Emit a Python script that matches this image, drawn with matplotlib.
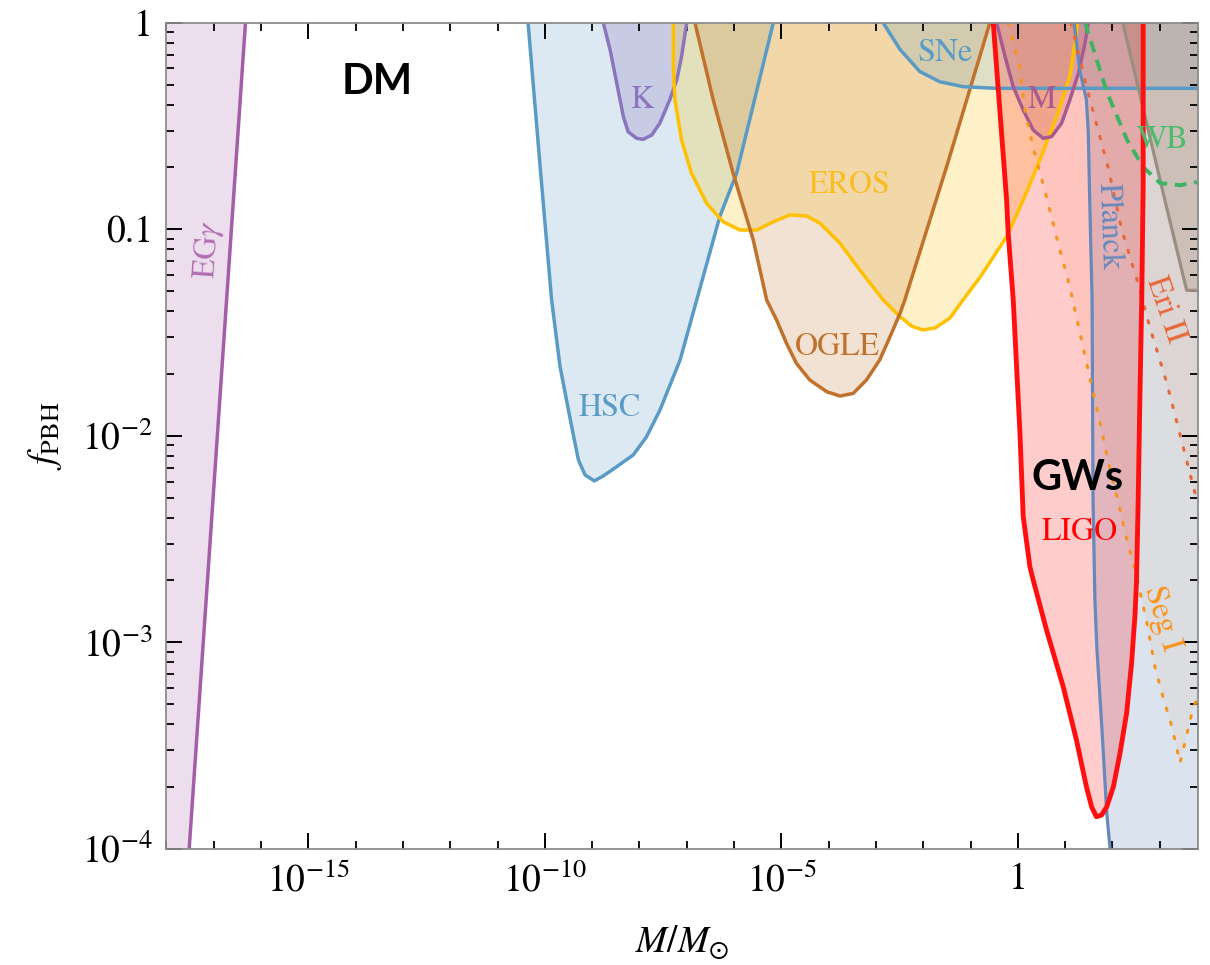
import numpy as np
import matplotlib
matplotlib.use("Agg")
import matplotlib.pyplot as plt
from matplotlib.ticker import FixedLocator, FixedFormatter, NullFormatter

plt.rcParams['font.family'] = 'STIXGeneral'
plt.rcParams['mathtext.fontset'] = 'stix'

# ---- constraint boundaries: log10(M / M_sun) and log10(f_PBH) ----
egg_logM = [-17.52, -16.33]
egg_logf = [-4.0, 0.0]

hsc_logM = [-10.355, -10.10, -9.857, -9.68, -9.433, -9.29, -9.15, -8.955, -8.765, -8.48, -8.13,
            -7.85, -7.567, -7.14, -6.79, -6.30, -5.945, -5.17]
hsc_logf = [0.0, -0.697, -1.343, -1.664, -1.956, -2.118, -2.19, -2.219, -2.195, -2.15, -2.093,
            -2.005, -1.876, -1.633, -1.343, -0.938, -0.729, 0.0]

k_logM = [-8.765, -8.62, -8.48, -8.34, -8.24, -8.06, -7.92, -7.74, -7.57, -7.36, -7.21, -7.11, -7.0]
k_logf = [0.0, -0.132, -0.293, -0.455, -0.528, -0.56, -0.565, -0.544, -0.487, -0.374, -0.277, -0.164, 0.0]

eros_logM = [-7.285, -7.285, -7.25, -7.11, -6.90, -6.58, -6.23, -5.875, -5.52, -5.17, -4.82, -4.465,
             -4.18, -3.76, -3.34, -2.845, -2.49, -2.24, -2.005, -1.75, -1.435, -1.16, -0.79,
             -0.237, 0.114, 0.465, 0.82, 1.10, 1.24, 1.255]
eros_logf = [0.0, -0.213, -0.374, -0.568, -0.729, -0.875, -0.964, -1.004, -1.004, -0.964, -0.931, -0.936,
             -0.971, -1.068, -1.198, -1.343, -1.424, -1.47, -1.488, -1.478, -1.43, -1.343, -1.23,
             -1.036, -0.859, -0.665, -0.455, -0.261, -0.051, 0.0]

ogle_logM = [-6.827, -6.44, -6.02, -5.594, -5.31, -5.10, -4.89, -4.68, -4.40, -4.04, -3.76, -3.48,
             -3.20, -2.92, -2.67, -2.49, -2.39, -1.505, -0.59]
ogle_logf = [0.0, -0.374, -0.729, -1.052, -1.343, -1.44, -1.553, -1.65, -1.73, -1.787, -1.808, -1.795,
             -1.73, -1.633, -1.504, -1.407, -1.343, -0.697, 0.0]

sne_logM = [-2.85, -2.49, -2.07, -1.65, -1.155, -0.45, 3.81]
sne_logf = [0.0, -0.13, -0.237, -0.286, -0.31, -0.318, -0.318]

macho_logM = [-0.45, -0.27, -0.097, 0.114, 0.325, 0.537, 0.713, 0.925, 1.10, 1.28, 1.42, 1.49]
macho_logf = [0.0, -0.164, -0.31, -0.423, -0.52, -0.56, -0.552, -0.487, -0.374, -0.245, -0.1, 0.0]

ligo_logM = [-0.52, -0.237, -0.204, -0.097, -0.026, 0.045, 0.114, 0.255, 0.325, 0.607, 0.959, 1.24,
             1.45, 1.56, 1.66, 1.77, 1.88, 2.02, 2.16, 2.30, 2.405, 2.48, 2.51, 2.545, 2.58, 2.62,
             2.65, 2.65]
ligo_logf = [0.0, -0.859, -1.018, -1.343, -1.666, -1.988, -2.392, -2.634, -2.699, -2.941, -3.215, -3.474,
             -3.70, -3.797, -3.845, -3.837, -3.797, -3.70, -3.538, -3.344, -3.102, -2.86, -2.699, -2.311,
             -1.827, -1.343, -0.794, 0.0]

planck_logM = [1.19, 1.31, 1.45, 1.49, 1.52, 1.57, 1.59, 1.63, 1.67, 1.78, 1.88, 1.95]
planck_logf = [0.0, -0.229, -0.374, -0.535, -0.860, -1.343, -2.312, -2.796, -3.024, -3.426, -3.828, -4.0]

grey_logM = [2.22, 3.11, 3.57, 3.81]
grey_logf = [0.0, -0.860, -1.296, -1.296]

wb_logM = [1.42, 1.89, 2.31, 2.65, 3.01, 3.43, 3.79]
wb_logf = [0.0, -0.340, -0.568, -0.699, -0.777, -0.787, -0.772]

eri_logM = [1.12, 1.525, 1.906, 2.20, 2.54, 2.79, 3.15, 3.47, 3.74, 3.81]
eri_logf = [0.0, -0.374, -0.699, -1.005, -1.261, -1.474, -1.745, -2.031, -2.273, -2.31]

seg_logM = [-0.21, 0.04, 0.15, 0.32, 0.57, 0.85, 1.10, 1.36, 1.57, 1.78, 1.91, 2.14, 2.27,
            2.52, 2.73, 2.90, 3.07, 3.26, 3.43, 3.58, 3.68, 3.81]
seg_logf = [0.0, -0.215, -0.423, -0.602, -0.811, -1.067, -1.280, -1.551, -1.769, -1.982, -2.127,
            -2.336, -2.471, -2.689, -2.907, -3.120, -3.266, -3.411, -3.585, -3.440, -3.344, -3.256]

# axis ranges (log10)
x_lo, x_hi = -18.0, 3.81
y_lo, y_hi = -4.0, 0.0

x_major = [-15, -10, -5, 0]
x_major_labels = [r'$10^{-15}$', r'$10^{-10}$', r'$10^{-5}$', '1']
y_major = [-4, -3, -2, -1, 0]
y_major_labels = [r'$10^{-4}$', r'$10^{-3}$', r'$10^{-2}$', '0.1', '1']

fig = plt.figure(figsize=(12.10, 9.65), dpi=100)
ax = fig.add_axes([0.1376, 0.1205, 0.8525, 0.8560])
ax.set_xscale('log')
ax.set_yscale('log')
ax.set_xlim(10**x_lo, 10**x_hi)
ax.set_ylim(10**y_lo, 10**y_hi)


def P(v):
    return 10.0 ** np.asarray(v, dtype=float)


def region(lm, lf, color, alpha, z=1):
    ax.fill(P(lm), P(lf), color=color, alpha=alpha, lw=0, zorder=z)


# ---- shaded exclusion regions ----
region(egg_logM + [x_lo, x_lo], egg_logf + [y_hi, y_lo], '#A45EA8', 0.2)
region(hsc_logM, hsc_logf, '#5A9BC6', 0.21)
region(k_logM, k_logf, '#8B75BE', 0.25)
region(eros_logM, eros_logf, '#FFC000', 0.22)
region(ogle_logM, ogle_logf, '#C0722C', 0.2)
region(sne_logM + [x_hi], sne_logf + [y_hi], '#5A9BC6', 0.2)
region(macho_logM, macho_logf, '#A85A8E', 0.2)
region(planck_logM + [x_hi, x_hi], planck_logf + [y_lo, y_hi], '#6688BB', 0.23)
region(grey_logM + [x_hi], grey_logf + [y_hi], '#8E8070', 0.25)
region(eri_logM + [x_hi], eri_logf + [y_hi], '#E8683A', 0.07)
region(seg_logM + [x_hi], seg_logf + [y_hi], '#F7941D', 0.07)
region(ligo_logM, ligo_logf, '#FF0000', 0.2)

# ---- boundary lines ----
lw = 2.5
line_kw = dict(solid_joinstyle='round', solid_capstyle='round', zorder=3)
ax.plot(P(egg_logM), P(egg_logf), color='#A45EA8', lw=lw, **line_kw)
ax.plot(P(hsc_logM), P(hsc_logf), color='#5A9BC6', lw=lw, **line_kw)
ax.plot(P(k_logM), P(k_logf), color='#8B75BE', lw=lw, **line_kw)
ax.plot(P(eros_logM), P(eros_logf), color='#FFC000', lw=lw, **line_kw)
ax.plot(P(ogle_logM), P(ogle_logf), color='#C0722C', lw=lw, **line_kw)
ax.plot(P(sne_logM), P(sne_logf), color='#5A9BC6', lw=lw, **line_kw)
ax.plot(P(macho_logM), P(macho_logf), color='#A85A8E', lw=lw, **line_kw)
ax.plot(P(planck_logM), P(planck_logf), color='#6688BB', lw=2.3, **line_kw)
ax.plot(P(grey_logM), P(grey_logf), color='#9A8E80', lw=2.3, **line_kw)
ax.plot(P(wb_logM), P(wb_logf), color='#3CB464', lw=2.8, dashes=(3, 2), zorder=3)
ax.plot(P(eri_logM), P(eri_logf), color='#E8683A', lw=2.2, dashes=(0.8, 4),
        dash_capstyle='round', zorder=3)
ax.plot(P(seg_logM), P(seg_logf), color='#F7941D', lw=2.2, dashes=(0.8, 4),
        dash_capstyle='round', zorder=3)
ax.plot(P(ligo_logM), P(ligo_logf), color='#FF1010', lw=3.5,
        solid_joinstyle='round', solid_capstyle='round', zorder=4)

# ---- curve labels ----
fs = 23
labels = [
    ('EG$\\gamma$', -17.12, -1.10, '#B070B0', 86),
    ('HSC', -8.62, -1.866, '#5A9BC6', 0),
    ('K', -7.93, -0.374, '#8B75BE', 0),
    ('EROS', -3.55, -0.786, '#F8BE20', 0),
    ('OGLE', -3.82, -1.571, '#C0722C', 0),
    ('SNe', -1.54, -0.147, '#5A9BC6', 0),
    ('M', 0.51, -0.374, '#A85A8E', 0),
    ('WB', 3.07, -0.568, '#4CBB6C', 0),
    ('Planck', 1.91, -0.985, '#6688BB', -88),
    ('Eri II', 3.11, -1.392, '#E8683A', -71),
    ('Seg I', 3.05, -2.884, '#F7941D', -73),
    ('LIGO', 1.31, -2.466, '#FF0000', 0),
]
for txt, lm, lf, col, rot in labels:
    ax.text(10**lm, 10**lf, txt, color=col, fontsize=fs, rotation=rot,
            ha='center', va='center', zorder=6)

ax.text(10**-13.55, 10**-0.287, 'DM', fontsize=30, fontweight='bold', family='Lato',
        ha='center', va='center', color='black', zorder=6)
ax.text(10**1.27, 10**-2.205, 'GWs', fontsize=30, fontweight='bold', family='Lato',
        ha='center', va='center', color='black', zorder=6)

# ---- axes, ticks ----
ax.xaxis.set_major_locator(FixedLocator(P(x_major)))
ax.xaxis.set_major_formatter(FixedFormatter(x_major_labels))
ax.xaxis.set_minor_locator(FixedLocator(P([k for k in range(-18, 4) if k not in x_major])))
ax.xaxis.set_minor_formatter(NullFormatter())
ax.yaxis.set_major_locator(FixedLocator(P(y_major)))
ax.yaxis.set_major_formatter(FixedFormatter(y_major_labels))
ax.yaxis.set_minor_locator(FixedLocator([m * 10.0**d for d in range(-4, 0) for m in range(2, 10)]))
ax.yaxis.set_minor_formatter(NullFormatter())

ax.tick_params(which='both', direction='in', top=True, right=True, color='black', labelsize=27)
ax.tick_params(which='major', length=11.5, width=1.4, pad=10)
ax.tick_params(which='minor', length=5.5, width=1.3)
for sp in ax.spines.values():
    sp.set_color('#8C8C8C')
    sp.set_linewidth(1.3)
    sp.set_zorder(7)

fig.text(45 / 1210, 1 - 436 / 965, r'$f_{\mathrm{PBH}}$', rotation=90, fontsize=27,
         ha='center', va='center')
fig.text(682 / 1210, 1 - 942 / 965, r'$M/M_{\odot}$', fontsize=27, ha='center', va='center')

fig.savefig('out.png', dpi=100)
